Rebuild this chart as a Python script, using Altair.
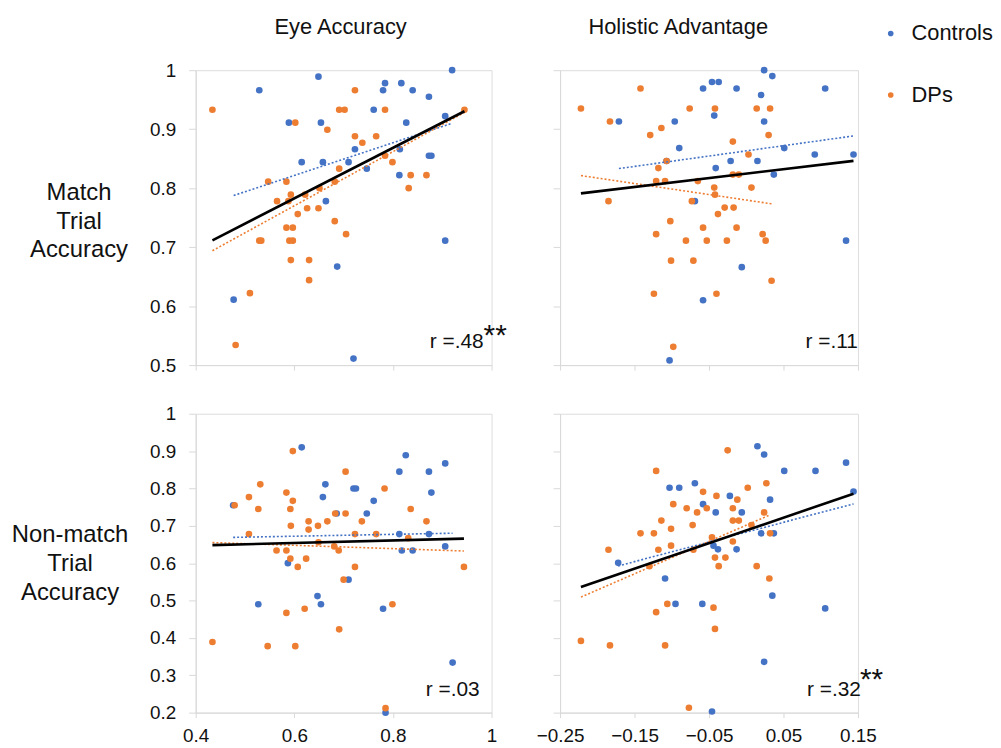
import altair as alt
import pandas as pd

BLUE = "#4472C4"
ORANGE = "#ED7D31"
AX = "#d9d9d9"
FONT = "Liberation Sans"
TXT = "#111111"

# ---------------- data ----------------
# Top-left: Eye Accuracy vs Match Trial Accuracy
tl_ctrl_x = [0.529, 0.649, 0.589, 0.654, 0.615, 0.658, 0.664, 0.710, 0.723, 0.747, 0.761, 0.780, 0.784, 0.817,
             0.840, 0.873, 0.827, 0.814, 0.813, 0.873, 0.878, 0.906, 0.920, 0.906, 0.687, 0.477, 0.720]
tl_ctrl_y = [0.966, 0.989, 0.911, 0.911, 0.844, 0.844, 0.778, 0.844, 0.866, 0.833, 0.933, 0.966, 0.978, 0.978,
             0.966, 0.955, 0.911, 0.866, 0.822, 0.855, 0.855, 0.922, 1.000, 0.711, 0.667, 0.611, 0.511]
tl_dp_x = [0.434, 0.481, 0.510, 0.529, 0.533, 0.547, 0.565, 0.584, 0.588, 0.593, 0.602, 0.584, 0.597, 0.590,
           0.597, 0.593, 0.607, 0.622, 0.626, 0.630, 0.630, 0.649, 0.651, 0.667, 0.682, 0.682, 0.691, 0.691,
           0.702, 0.705, 0.723, 0.723, 0.738, 0.766, 0.784, 0.784, 0.799, 0.832, 0.836, 0.868, 0.945]
tl_dp_y = [0.933, 0.534, 0.622, 0.711, 0.711, 0.811, 0.778, 0.811, 0.778, 0.789, 0.911, 0.733, 0.733, 0.711,
           0.711, 0.678, 0.756, 0.789, 0.766, 0.678, 0.644, 0.766, 0.800, 0.899, 0.811, 0.744, 0.833, 0.933,
           0.933, 0.722, 0.966, 0.888, 0.877, 0.888, 0.933, 0.855, 0.844, 0.800, 0.822, 0.822, 0.933]

# Top-right: Holistic Advantage vs Match Trial Accuracy
tr_ctrl_x = [0.024, 0.035, -0.058, -0.046, -0.037, -0.013, 0.020, -0.043, 0.024, -0.171, -0.096, -0.090, -0.107,
             -0.041, -0.021, 0.015, 0.037, 0.051, 0.092, 0.144, 0.106, 0.134, -0.006, -0.058, -0.103, -0.069]
tr_ctrl_y = [1.000, 0.990, 0.969, 0.980, 0.980, 0.969, 0.958, 0.923, 0.913, 0.913, 0.913, 0.868, 0.846,
             0.834, 0.846, 0.846, 0.823, 0.868, 0.857, 0.857, 0.969, 0.711, 0.666, 0.610, 0.508, 0.778]
tr_dp_x = [-0.222, -0.142, -0.183, -0.129, -0.114, -0.076, -0.042, 0.014, 0.032, 0.030, -0.018, 0.003, -0.107,
           -0.118, -0.121, -0.109, -0.065, -0.018, -0.010, -0.043, 0.007, -0.042, -0.185, -0.073, -0.029, -0.017,
           -0.038, -0.102, -0.058, -0.013, -0.121, 0.022, 0.026, -0.081, -0.053, -0.026, -0.101, -0.071, 0.034,
           -0.124, -0.040, -0.098]
tr_dp_y = [0.935, 0.969, 0.913, 0.890, 0.902, 0.935, 0.935, 0.935, 0.935, 0.890, 0.879, 0.857, 0.846,
           0.834, 0.812, 0.812, 0.812, 0.823, 0.823, 0.801, 0.801, 0.789, 0.778, 0.778, 0.767, 0.767,
           0.756, 0.744, 0.733, 0.733, 0.722, 0.722, 0.711, 0.711, 0.711, 0.711, 0.677, 0.677, 0.643,
           0.621, 0.621, 0.531]

# Bottom-left: Eye Accuracy vs Non-match Trial Accuracy
bl_ctrl_x = [0.615, 0.826, 0.906, 0.813, 0.873, 0.663, 0.720, 0.725, 0.878, 0.658, 0.761, 0.476, 0.747, 0.686,
             0.813, 0.873, 0.818, 0.840, 0.906, 0.587, 0.710, 0.647, 0.654, 0.527, 0.780, 0.921, 0.785]
bl_ctrl_y = [0.910, 0.889, 0.867, 0.845, 0.845, 0.811, 0.800, 0.800, 0.789, 0.777, 0.767, 0.755, 0.733, 0.733,
             0.678, 0.678, 0.634, 0.634, 0.645, 0.600, 0.556, 0.512, 0.490, 0.490, 0.478, 0.334, 0.200]
bl_dp_x = [0.597, 0.704, 0.531, 0.783, 0.508, 0.584, 0.597, 0.479, 0.527, 0.592, 0.683, 0.704, 0.836, 0.629,
           0.667, 0.737, 0.868, 0.593, 0.648, 0.629, 0.508, 0.723, 0.766, 0.831, 0.649, 0.681, 0.690, 0.564,
           0.584, 0.592, 0.624, 0.607, 0.723, 0.944, 0.700, 0.799, 0.621, 0.584, 0.691, 0.434, 0.546, 0.602,
           0.785]
bl_dp_y = [0.900, 0.845, 0.811, 0.800, 0.777, 0.789, 0.767, 0.755, 0.745, 0.745, 0.733, 0.733, 0.745, 0.712,
           0.712, 0.712, 0.712, 0.700, 0.700, 0.690, 0.678, 0.678, 0.678, 0.667, 0.656, 0.645, 0.634, 0.634,
           0.634, 0.612, 0.612, 0.590, 0.590, 0.590, 0.556, 0.490, 0.478, 0.467, 0.423, 0.389, 0.378, 0.378,
           0.212]

# Bottom-right: Holistic Advantage vs Non-match Trial Accuracy
br_ctrl_x = [0.015, 0.024, 0.134, 0.051, 0.093, -0.069, -0.103, -0.090, -0.022, -0.058, 0.032, 0.144, -0.041,
             -0.006, 0.020, 0.037, -0.044, -0.038, -0.013, -0.172, -0.109, 0.035, -0.095, -0.059, 0.106, 0.024,
             -0.046]
br_ctrl_y = [0.913, 0.891, 0.869, 0.847, 0.847, 0.814, 0.802, 0.802, 0.780, 0.758, 0.770, 0.792, 0.736,
             0.736, 0.680, 0.680, 0.647, 0.637, 0.637, 0.601, 0.559, 0.513, 0.491, 0.491, 0.479, 0.336,
             0.203]
br_dp_x = [-0.025, -0.121, -0.058, -0.040, 0.002, 0.027, -0.012, -0.098, -0.080, -0.053, -0.066, -0.018, 0.024,
           -0.114, -0.018, -0.010, -0.072, 0.007, -0.142, -0.124, -0.101, 0.032, -0.046, -0.018, -0.185, -0.118,
           -0.101, -0.071, -0.042, -0.028, -0.037, -0.130, 0.014, 0.031, -0.106, -0.121, -0.044, -0.042, -0.222,
           -0.183, -0.109, -0.077]
br_dp_y = [0.902, 0.847, 0.791, 0.780, 0.802, 0.814, 0.770, 0.758, 0.747, 0.747, 0.736, 0.747, 0.736,
           0.714, 0.714, 0.714, 0.702, 0.702, 0.680, 0.680, 0.692, 0.680, 0.669, 0.658, 0.636, 0.636,
           0.647, 0.636, 0.615, 0.615, 0.592, 0.592, 0.592, 0.559, 0.491, 0.469, 0.481, 0.424, 0.392,
           0.380, 0.380, 0.213]

groups = ["Controls", "DPs"]
col_titles = ["Eye Accuracy", "Holistic Advantage"]
row_titles = [["Match", "Trial", "Accuracy"], ["Non-match", "Trial", "Accuracy"]]
r_labels = ["r =.48", "r =.11", "r =.03", "r =.32"]
stars = "**"

eye_ticks = [0.4, 0.6, 0.8, 1.0]
hol_ticks = [-0.25, -0.15, -0.05, 0.05, 0.15]
top_yticks = [0.5, 0.6, 0.7, 0.8, 0.9, 1.0]
bot_yticks = [0.2, 0.3, 0.4, 0.5, 0.6, 0.7, 0.8, 0.9, 1.0]


def make_df(cx, cy, dx, dy):
    return pd.DataFrame({
        "x": cx + dx,
        "y": cy + dy,
        "group": [groups[0]] * len(cx) + [groups[1]] * len(dx),
    })


ONE_DEC = "datum.value == 1 ? '1' : format(datum.value, '.1f')"
TWO_DEC = "format(datum.value, '.2f')"

legend = alt.Legend(
    title=None, orient="none", legendX=689, legendY=-48, direction="vertical",
    labelFontSize=22, labelFont=FONT, labelColor=TXT, symbolType="circle",
    symbolSize=32, symbolStrokeWidth=0, rowPadding=40, labelOffset=10, padding=0,
)


def text_layer(txt, x, y, size, align="right"):
    return alt.Chart(pd.DataFrame({"t": [txt]})).mark_text(
        align=align, baseline="alphabetic", fontSize=size, font=FONT, color=TXT
    ).encode(text="t:N", x=alt.value(x), y=alt.value(y))


def panel(df, xdom, xticks, xexpr, ydom, yticks, w, h, xlabels, ylabels,
          rowtitle=None, rowtitle_x=0, rowtitle_y=0, coltitle=None, title_x=0,
          rtxt="", rx=0, ry=0, star=False, sx=0, sy=0):
    xaxis = alt.Axis(values=xticks, labels=xlabels, labelExpr=xexpr, title=None, grid=False,
                     domainColor=AX, tickColor=AX, tickSize=5, labelFontSize=19, labelFont=FONT,
                     labelColor=TXT, labelPadding=9, labelFlush=False, labelOverlap=False)
    ykw = dict(values=yticks, labels=ylabels, labelExpr=ONE_DEC, grid=False, domainColor=AX,
               tickColor=AX, tickSize=7, labelFontSize=19, labelFont=FONT, labelColor=TXT,
               labelPadding=13, labelFlush=False, labelOverlap=False)
    if rowtitle:
        ykw.update(title=rowtitle, titleAngle=0, titleAlign="center", titleBaseline="middle",
                   titleX=rowtitle_x, titleY=rowtitle_y, titleFontSize=24, titleFont=FONT,
                   titleFontWeight="normal", titleLineHeight=29, titleColor=TXT)
    else:
        ykw.update(title=None)
    yaxis = alt.Axis(**ykw)
    X = alt.X("x:Q", scale=alt.Scale(domain=xdom, nice=False, zero=False), axis=xaxis)
    Y = alt.Y("y:Q", scale=alt.Scale(domain=ydom, nice=False, zero=False), axis=yaxis)

    base = alt.Chart(df)
    pts = base.mark_circle(size=45, opacity=1).encode(
        x=X, y=Y,
        color=alt.Color("group:N", scale=alt.Scale(domain=groups, range=[BLUE, ORANGE]), legend=legend),
    )
    ctrl_line = base.transform_filter(alt.datum.group == groups[0]).transform_regression(
        "x", "y").mark_line(color=BLUE, strokeDash=[2, 2], strokeWidth=1.6).encode(x=X, y=Y)
    dp_line = base.transform_filter(alt.datum.group == groups[1]).transform_regression(
        "x", "y").mark_line(color=ORANGE, strokeDash=[2, 2], strokeWidth=1.6).encode(x=X, y=Y)
    all_line = base.transform_regression("x", "y").mark_line(color="black", strokeWidth=2.6).encode(x=X, y=Y)

    layers = [pts, ctrl_line, dp_line, all_line, text_layer(rtxt, rx, ry, 21)]
    if star:
        layers.append(text_layer(stars, sx, sy, 30, align="left"))
    if coltitle:
        layers.append(text_layer(coltitle, title_x, -36, 22, align="center"))
    return alt.layer(*layers).properties(width=w, height=h)


tl = panel(make_df(tl_ctrl_x, tl_ctrl_y, tl_dp_x, tl_dp_y), [0.4, 1.0], eye_ticks, ONE_DEC,
           [0.5, 1.0], top_yticks, 298, 297, False, True,
           rowtitle=row_titles[0], rowtitle_x=-118, rowtitle_y=123,
           coltitle=col_titles[0], title_x=146,
           rtxt=r_labels[0], rx=290, ry=280, star=True, sx=290, sy=277)
tr = panel(make_df(tr_ctrl_x, tr_ctrl_y, tr_dp_x, tr_dp_y), [-0.25, 0.15], hol_ticks, TWO_DEC,
           [0.5, 1.0], top_yticks, 300, 297, False, False,
           coltitle=col_titles[1], title_x=119,
           rtxt=r_labels[1], rx=300, ry=280)
bl = panel(make_df(bl_ctrl_x, bl_ctrl_y, bl_dp_x, bl_dp_y), [0.4, 1.0], eye_ticks, ONE_DEC,
           [0.2, 1.0], bot_yticks, 298, 301, True, True,
           rowtitle=row_titles[1], rowtitle_x=-127, rowtitle_y=122,
           rtxt=r_labels[2], rx=286, ry=284)
br = panel(make_df(br_ctrl_x, br_ctrl_y, br_dp_x, br_dp_y), [-0.25, 0.15], hol_ticks, TWO_DEC,
           [0.2, 1.0], bot_yticks, 300, 301, True, False,
           rtxt=r_labels[3], rx=303, ry=284, star=True, sx=302, sy=277)

chart = alt.concat(tl, tr, bl, br, columns=2).properties(
    spacing={"row": 49, "column": 69},
    bounds="flush",
    align="each",
    padding={"left": 2, "top": 5, "right": 0, "bottom": 0},
).configure_view(stroke=None).configure(background="white")

chart.save("out.html", embed_options={"renderer": "svg", "actions": False})
